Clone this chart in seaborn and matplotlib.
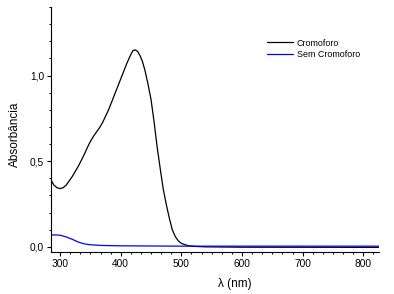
import numpy as np
import pandas as pd
import matplotlib
matplotlib.use('Agg')
import matplotlib.pyplot as plt
from matplotlib.ticker import MultipleLocator, AutoMinorLocator, FuncFormatter
import seaborn as sns

# dados
wl_cromo = [285, 290, 295, 300, 305, 310, 320, 330, 340, 345, 350, 355, 360, 365, 370,
            380, 390, 400, 410, 415, 420, 424, 428, 432, 436, 440, 445, 450, 455, 460,
            465, 470, 475, 480, 485, 490, 495, 500, 510, 520, 540, 600, 826]
abs_cromo = [0.39, 0.36, 0.345, 0.34, 0.345, 0.36, 0.41, 0.47, 0.54, 0.58, 0.615, 0.645,
             0.67, 0.695, 0.725, 0.80, 0.89, 0.98, 1.07, 1.11, 1.145, 1.15, 1.14, 1.115,
             1.08, 1.03, 0.95, 0.86, 0.73, 0.585, 0.46, 0.34, 0.25, 0.17, 0.10,
             0.06, 0.035, 0.02, 0.008, 0.003, 0.0, -0.002, -0.003]

wl_sem = [285, 290, 300, 310, 320, 330, 340, 350, 370, 400, 450, 500, 600, 826]
abs_sem = [0.068, 0.07, 0.068, 0.058, 0.044, 0.028, 0.017, 0.012, 0.008, 0.006,
           0.005, 0.004, 0.004, 0.004]

df_cromo = pd.DataFrame({'wl': wl_cromo, 'abs': abs_cromo})
df_sem = pd.DataFrame({'wl': wl_sem, 'abs': abs_sem})

sns.set_style('ticks', {'axes.edgecolor': 'black', 'text.color': 'black',
                        'axes.labelcolor': 'black', 'xtick.color': 'black',
                        'ytick.color': 'black'})
plt.rcParams['font.family'] = ['Liberation Sans', 'DejaVu Sans']

fig = plt.figure(figsize=(3.94, 2.94), dpi=100)
ax = fig.add_axes([0.1294, 0.1429, 0.8326, 0.8333])

sns.lineplot(data=df_cromo, x='wl', y='abs', color='black', lw=0.9,
             label='Cromoforo', ax=ax)
sns.lineplot(data=df_sem, x='wl', y='abs', color='#0000ff', lw=0.9,
             label='Sem Cromoforo', ax=ax)

ax.set_xlim(285, 826)
ax.set_ylim(-0.03, 1.40)
ax.xaxis.set_major_locator(MultipleLocator(100))
ax.xaxis.set_minor_locator(AutoMinorLocator(6))
ax.yaxis.set_major_locator(MultipleLocator(0.5))
ax.yaxis.set_minor_locator(MultipleLocator(0.1))
ax.yaxis.set_major_formatter(FuncFormatter(lambda v, p: f'{v:.1f}'.replace('.', ',')))
ax.tick_params(which='major', length=3, width=0.8, labelsize=7.3, pad=2)
ax.tick_params(which='minor', length=1.6, width=0.7)
sns.despine(ax=ax)
for s in ['left', 'bottom']:
    ax.spines[s].set_linewidth(0.8)

ax.set_xlabel('λ (nm)', fontsize=8.5)
ax.set_ylabel('Absorbância', fontsize=8.5)
ax.xaxis.set_label_coords(0.56, -0.105)
ax.yaxis.set_label_coords(-0.09, 0.48)

ax.legend(loc='upper left', bbox_to_anchor=(0.659, 0.871), frameon=False,
          fontsize=6.4, borderaxespad=0, borderpad=0, handlelength=2.9,
          handletextpad=0.45, labelspacing=0.3)

fig.savefig('out.png', dpi=100)
